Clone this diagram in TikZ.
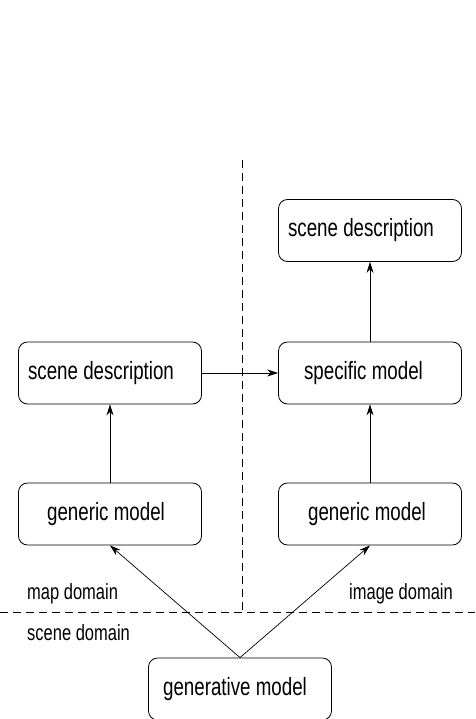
\documentclass[tikz,border=0pt]{standalone}
\usepackage{fontspec}
\setmainfont{Liberation Sans}[FakeStretch=0.75]
\usepackage{tikz}
\usetikzlibrary{shapes.geometric, arrows.meta}

\begin{document}
\begin{tikzpicture}[x=1pt, y=-1pt,
    box/.style={draw, rounded corners=9pt, line width=0.8pt, minimum width=183pt, minimum height=62pt, font=\fontsize{25}{28}\selectfont},
    lbl/.style={font=\fontsize{22}{26}\selectfont, anchor=west, inner sep=0pt},
    sep/.style={line width=0.7pt, dash pattern=on 8pt off 5pt}]
       \useasboundingbox (0,0) rectangle (475,719);
           \node[box](sdleft)  at (110,373) {\hspace*{-18pt}scene description};
          \node[box](sdright)  at (370,230.5) {\hspace*{-18pt}scene description};
      \node[box](specific)  at (370,373) {\hspace*{-13pt}specific model};
      \node[box](genleft)  at (110,514) {\hspace*{-8pt}generic model};
      \node[box](genright)  at (370,514) {\hspace*{-6pt}generic model};
      \node[box](generative)  at (240,689) {\hspace*{-10pt}generative model};
      \node[lbl](map)  at (27,594) {map domain};
      \node[lbl](image)  at (349,594) {image domain};
      \node[lbl](scene)  at (27,633) {scene domain};
      \coordinate (vtop) at (242,160);
      \coordinate (vbot) at (242,612);
      \coordinate (hleft) at (0,612);
      \coordinate (hright) at (475,612);
       \draw[sep] (vtop) -- (vbot);
       \draw[sep] (hleft) -- (hright);
      \draw[->,>={Stealth[length=11pt,width=7pt]}, line width=0.7pt] (generative.north) -- (genleft.south);
      \draw[->,>={Stealth[length=11pt,width=7pt]}, line width=0.7pt] (generative.north) -- (genright.south);
      \draw[->,>={Stealth[length=11pt,width=7pt]}, line width=0.7pt] (genleft) -- (sdleft);
      \draw[->,>={Stealth[length=11pt,width=7pt]}, line width=0.7pt] (genright) -- (specific);
       \draw[->,>={Stealth[length=11pt,width=7pt]}, line width=0.7pt] (specific) -- (sdright);
        \draw[->,>={Stealth[length=11pt,width=7pt]}, line width=0.7pt] (sdleft) -- (specific);
          \end{tikzpicture}
\end{document}
